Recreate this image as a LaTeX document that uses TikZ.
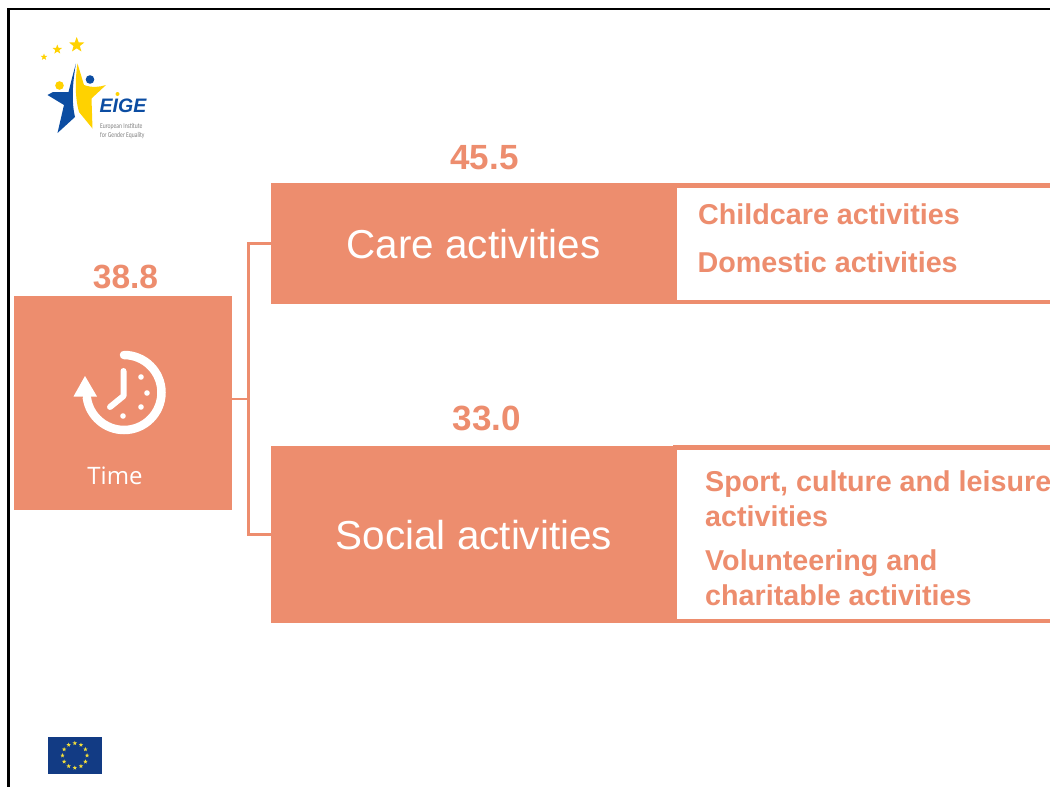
\documentclass[tikz,border=0pt]{standalone}
\usepackage{fontspec}
\setmainfont{Liberation Sans}
\newfontfamily\timefont{Open Sans}
\newfontfamily\logofont{Carlito}
\usetikzlibrary{shapes.geometric,calc}
\definecolor{salmon}{HTML}{ED8D6E}
\definecolor{eigeblue}{HTML}{0C4DA2}
\definecolor{eigeyellow}{HTML}{FFD200}
\definecolor{eublue}{HTML}{123B84}
\definecolor{eustar}{HTML}{F2DE3A}
\tikzset{
  panel/.style={fill=salmon,draw=none,inner sep=0pt,anchor=north west,text=white},
  headtext/.style={font=\fontsize{40.4}{40}\selectfont},
  score/.style={text=salmon,font=\bfseries\fontsize{33.5}{33.5}\selectfont,inner sep=0pt},
  bigscore/.style={text=salmon,font=\bfseries\fontsize{35}{35}\selectfont,inner sep=0pt},
  item/.style={text=salmon,font=\bfseries\fontsize{28.7}{34.5}\selectfont,inner sep=0pt,anchor=west,align=left},
  link/.style={draw=salmon,line width=3pt},
  thinlink/.style={draw=salmon,line width=2pt},
  rail/.style={draw=none,fill=salmon},
  lgstar/.style={star,star points=5,star point ratio=2.4,fill=eigeyellow,draw=none,inner sep=0pt},
  eustarn/.style={star,star points=5,star point ratio=2.4,fill=eustar,draw=none,inner sep=0pt,minimum size=4.6pt},
  icon/.style={draw=white,line width=8.5pt,line cap=round},
  hand/.style={draw=white,line width=6pt,line cap=round,line join=round}
}
\begin{document}
\begin{tikzpicture}[x=1pt,y=-1pt]
\useasboundingbox (0,0) rectangle (1050,787);
\clip (0,0) rectangle (1050,787);
\fill[white] (0,0) rectangle (1050,787);
% frame
\draw[black,line width=2.4pt] (8.5,787) -- (8.5,8.8) -- (1050,8.8);
% right outlines
\fill[rail] (673,183) rectangle (1050,187.5);
\fill[rail] (673,300) rectangle (1050,304);
\fill[rail] (673,445) rectangle (1050,449.5);
\fill[rail] (673,619) rectangle (1050,623);
% panels
\node[panel,minimum width=218pt,minimum height=214pt] (time) at (14,296) {};
\node[panel,minimum width=406pt,minimum height=121pt] (care) at (271,183) {};
\node[panel,minimum width=406pt,minimum height=177pt] (social) at (271,446) {};
\node[headtext,text=white,inner sep=0pt] (caret) at (473.5,244) {Care activities};
\node[headtext,text=white,inner sep=0pt] (socialt) at (474,535) {Social activities};
\node[text=white,inner sep=0pt,font=\timefont\fontsize{24}{24}\selectfont] (timet) at (115,476) {Time};
% connectors
\coordinate (bus) at (248,399);
\draw[link] (care.west) -| (bus) |- (social.west);
\draw[thinlink] (time.east |- bus) -- (bus);
% scores
\node[bigscore] (s1) at (484.5,158) {45.5};
\node[score] (s2) at (125.5,277) {38.8};
\node[bigscore] (s3) at (487,418) {33.0};
% items
\node[item] (i1) at (698,214.2) {Childcare activities};
\node[item] (i2) at (697.5,262.2) {Domestic activities};
\node[item] (i3) at (705,498.5) {Sport, culture and leisure\\activities};
\node[item] (i4) at (705,577.5) {Volunteering and\\charitable activities};
% clock icon
\draw[icon] (124,355) arc[start angle=-90,end angle=172,radius=37.5];
\fill[white] (85,376) -- (97,396.5) -- (73.5,396.5) -- cycle;
\draw[hand] (123.5,371) -- (123.5,396) -- (110,407);
\foreach \p in {(141,377),(147,393),(141,407),(123,416)} \fill[white] \p circle (2.8);
% EIGE logo
\node[lgstar,minimum size=16pt] (ls1) at (76.7,45) {};
\node[lgstar,minimum size=10pt] (ls2) at (57.3,49.5) {};
\node[lgstar,minimum size=7pt] (ls3) at (44,57) {};
\fill[eigeblue] (76,63.5) .. controls (73.5,72) and (71,82) .. (68.5,92) -- (53,92) -- (47.5,95) -- (64,105) -- (57.5,133) -- (75,117) .. controls (71,100) and (73,80) .. (76,63.5) -- cycle;
\fill[eigeyellow] (77.5,63.5) -- (84,85) .. controls (92,88) and (100,87) .. (106,85) -- (91.5,98.5) -- (92.5,128.5) -- (79,112) .. controls (75,98) and (75,80) .. (77.5,63.5) -- cycle;
\fill[eigeyellow] (59.5,85.5) circle (4.3);
\fill[eigeblue] (90,79.5) circle (4.3);
\node[inner sep=0pt,text=eigeblue,font=\bfseries\itshape\fontsize{19.5}{19.5}\selectfont] (eige) at (123,105.5) {EIGE};
\fill[eigeyellow] (117.5,94) circle (2);
\node[inner sep=0pt,anchor=north west,text=gray,align=left,xscale=.76,transform shape,font=\logofont\fontsize{7.4}{8.2}\selectfont] (eiget) at (100,123.5) {European Institute\\for Gender Equality};
% EU flag
\node[fill=eublue,draw=none,minimum width=54.5pt,minimum height=37pt,inner sep=0pt] (flag) at (74.8,755.5) {};
\foreach \a in {0,30,...,330} \node[eustarn] at ($(flag.center)+(\a:12.3)$) {};
\end{tikzpicture}
\end{document}
